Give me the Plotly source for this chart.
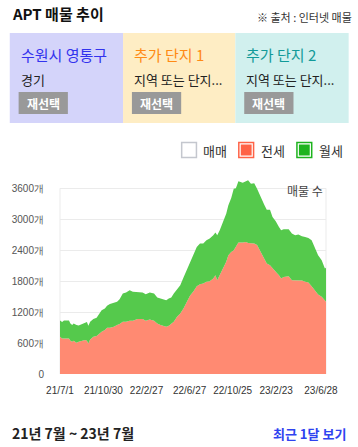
import plotly.graph_objects as go

# ---- data ----
dates = [
    "2021-07-01", "2021-07-07", "2021-07-12", "2021-07-26", "2021-07-30", "2021-08-04",
    "2021-08-08", "2021-08-16", "2021-08-22", "2021-08-31", "2021-09-09", "2021-09-14",
    "2021-09-18", "2021-09-23", "2021-10-02", "2021-10-11", "2021-10-19", "2021-10-25",
    "2021-11-03", "2021-11-09", "2021-11-17", "2021-11-28", "2021-12-07", "2021-12-14",
    "2021-12-23", "2022-01-01", "2022-01-11", "2022-01-20", "2022-02-02", "2022-02-16",
    "2022-02-25", "2022-03-08", "2022-03-20", "2022-03-29", "2022-04-07", "2022-04-17",
    "2022-04-23", "2022-04-30", "2022-05-07", "2022-05-14", "2022-05-23", "2022-06-01",
    "2022-06-10", "2022-06-19", "2022-06-28", "2022-07-08", "2022-07-17", "2022-07-26",
    "2022-08-04", "2022-08-13", "2022-08-22", "2022-09-01", "2022-09-07", "2022-09-12",
    "2022-09-19", "2022-09-28", "2022-10-07", "2022-10-13", "2022-10-21", "2022-10-28",
    "2022-11-03", "2022-11-10", "2022-11-22", "2022-12-01", "2022-12-07", "2022-12-15",
    "2022-12-24", "2023-01-01", "2023-01-07", "2023-01-14", "2023-01-21", "2023-01-28",
    "2023-02-06", "2023-02-13", "2023-02-22", "2023-03-03", "2023-03-09", "2023-03-16",
    "2023-03-30", "2023-04-08", "2023-04-17", "2023-04-26", "2023-05-06", "2023-05-15",
    "2023-05-24", "2023-06-02", "2023-06-11", "2023-06-20", "2023-06-30", "2023-07-09",
    "2023-07-12",
]
jeonse = [
    722, 690, 690, 690, 645, 626, 645, 606, 626, 645, 658, 645,
    593, 671, 722, 735, 787, 819, 851, 897, 897, 916, 948, 968,
    1013, 1013, 1032, 1032, 1064, 1064, 1032, 1058, 1032, 980, 948, 935,
    916, 935, 968, 1013, 1110, 1174, 1271, 1400, 1516, 1606, 1703, 1742,
    1754, 1787, 1800, 1851, 1916, 1819, 1916, 2045, 2174, 2303, 2367, 2400,
    2483, 2548, 2548, 2561, 2541, 2541, 2528, 2500, 2419, 2322, 2206, 2141,
    2109, 2045, 1980, 1916, 1851, 1883, 1896, 1819, 1819, 1812, 1812, 1787,
    1774, 1703, 1625, 1541, 1496, 1412, 1400,
]
wolse = [
    316, 316, 348, 348, 335, 322, 335, 342, 316, 316, 335, 361,
    342, 342, 342, 355, 387, 419, 420, 425, 458, 471, 452, 483,
    548, 567, 593, 561, 516, 516, 516, 522, 529, 504, 516, 516,
    516, 529, 516, 548, 535, 548, 599, 612, 625, 697, 761, 786,
    774, 806, 825, 839, 825, 871, 870, 903, 935, 967, 1045, 1193,
    1117, 1187, 1161, 1174, 1213, 1149, 1172, 1093, 1077, 1045, 1077, 1045,
    1077, 999, 981, 935, 935, 923, 910, 903, 871, 891, 858, 870,
    864, 890, 839, 762, 710, 633, 660,
]
x_tick_vals = ["2021-07-01", "2021-10-30", "2022-02-27", "2022-06-27",
               "2022-10-25", "2023-02-23", "2023-06-28"]
x_tick_text = ["21/7/1", "21/10/30", "22/2/27", "22/6/27", "22/10/25", "23/2/23", "23/6/28"]
y_tick_vals = [0, 600, 1200, 1800, 2400, 3000, 3600]
y_tick_text = ["0", "600개", "1200개", "1800개", "2400개", "3000개", "3600개"]

FONT = "Noto Sans CJK KR"
W, H = 358, 447
L, R, T, B = 56, 32, 178, 73
PW, PH = W - L - R, H - T - B


def px(x):
    return (x - L) / PW


def py(y):
    return (H - B - y) / PH


fig = go.Figure()
fig.add_trace(go.Scatter(x=dates, y=jeonse, name="전세", stackgroup="s", mode="lines",
                         line=dict(width=0, color="#ff8a72"), fillcolor="#ff8a72",
                         hoverinfo="x+y"))
fig.add_trace(go.Scatter(x=dates, y=wolse, name="월세", stackgroup="s", mode="lines",
                         line=dict(width=0, color="#55c94c"), fillcolor="#55c94c",
                         hoverinfo="x+y"))

shapes = []
annots = []

# plot frame vertical lines
for xv in (0, 1):
    shapes.append(dict(type="line", xref="paper", yref="y", x0=xv, x1=xv, y0=0, y1=3600,
                       line=dict(color="#ebebeb", width=1), layer="below"))

# title and source
annots.append(dict(text="<b>APT 매물 추이</b>", x=px(5), y=py(13), xref="paper", yref="paper",
                   xanchor="left", yanchor="middle", showarrow=False,
                   font=dict(size=15, color="#111", family=FONT)))
annots.append(dict(text="※ 출처 : 인터넷 매물", x=px(354), y=py(17), xref="paper", yref="paper",
                   xanchor="right", yanchor="middle", showarrow=False,
                   font=dict(size=11, color="#333", family=FONT)))

# panels
panels = [
    (5, 120, "#d4d4fa", "수원시 영통구", "#3333ee", "경기"),
    (120, 234, "#feedc4", "추가 단지 1", "#ff8a14", "지역 또는 단지..."),
    (234, 349, "#d1f0ee", "추가 단지 2", "#119a99", "지역 또는 단지..."),
]
for x0, x1, bg, title, tc, sub in panels:
    shapes.append(dict(type="rect", xref="paper", yref="paper", x0=px(x0), x1=px(x1),
                       y0=py(123), y1=py(33), fillcolor=bg, line=dict(width=0)))
    annots.append(dict(text=title, x=px(x0 + 9), y=py(55), xref="paper", yref="paper",
                       xanchor="left", yanchor="middle", showarrow=False,
                       font=dict(size=15, color=tc, family=FONT)))
    annots.append(dict(text=sub, x=px(x0 + 9), y=py(79), xref="paper", yref="paper",
                       xanchor="left", yanchor="middle", showarrow=False,
                       font=dict(size=13, color="#222", family=FONT)))
    shapes.append(dict(type="rect", xref="paper", yref="paper", x0=px(x0 + 9), x1=px(x0 + 59),
                       y0=py(114), y1=py(92), fillcolor="#999999", line=dict(width=0)))
    annots.append(dict(text="<b>재선택</b>", x=px(x0 + 34), y=py(103), xref="paper", yref="paper",
                       xanchor="center", yanchor="middle", showarrow=False,
                       font=dict(size=12, color="#ffffff", family=FONT)))

# legend
legend_items = [
    (179.5, "매매", "#ffffff", "#c4c7ce"),
    (237.5, "전세", "#ff6347", "#ff6347"),
    (296.5, "월세", "#1db31d", "#1db31d"),
]
for lx, lt, fc, lc in legend_items:
    shapes.append(dict(type="rect", xref="paper", yref="paper", x0=px(lx), x1=px(lx + 15),
                       y0=py(157.5), y1=py(142.5), fillcolor="#ffffff",
                       line=dict(color=lc, width=1.5)))
    if fc != "#ffffff":
        shapes.append(dict(type="rect", xref="paper", yref="paper", x0=px(lx + 2), x1=px(lx + 13),
                           y0=py(155.5), y1=py(144.5), fillcolor=fc, line=dict(width=0)))
    annots.append(dict(text=lt, x=px(lx + 20), y=py(150), xref="paper", yref="paper",
                       xanchor="left", yanchor="middle", showarrow=False,
                       font=dict(size=13, color="#333", family=FONT)))

annots.append(dict(text="매물 수", x=px(325), y=py(190), xref="paper", yref="paper",
                   xanchor="right", yanchor="middle", showarrow=False,
                   font=dict(size=12, color="#444", family=FONT)))

# footer
annots.append(dict(text="<b>21년 7월 ~ 23년 7월</b>", x=px(5), y=py(433), xref="paper", yref="paper",
                   xanchor="left", yanchor="middle", showarrow=False,
                   font=dict(size=14, color="#222", family=FONT)))
annots.append(dict(text="<b>최근 1달 보기</b>", x=px(348), y=py(433), xref="paper", yref="paper",
                   xanchor="right", yanchor="middle", showarrow=False,
                   font=dict(size=13, color="#2f43f0", family=FONT)))

fig.update_layout(
    width=W, height=H,
    margin=dict(l=L, r=R, t=T, b=B, pad=0),
    paper_bgcolor="white", plot_bgcolor="white",
    showlegend=False,
    shapes=shapes, annotations=annots,
    font=dict(family=FONT),
    xaxis=dict(type="date", range=["2021-07-01", "2023-07-12"],
               tickvals=x_tick_vals, ticktext=x_tick_text,
               showgrid=False, zeroline=False, showline=False,
               ticks="outside", ticklen=7, tickcolor="rgba(0,0,0,0)",
               tickfont=dict(size=10, color="#333", family="Liberation Sans")),
    yaxis=dict(range=[0, 3800], tickvals=y_tick_vals, ticktext=y_tick_text,
               showgrid=True, gridcolor="#ebebeb", gridwidth=1,
               zeroline=False, showline=False,
               ticks="outside", ticklen=13, tickcolor="rgba(0,0,0,0)",
               tickfont=dict(size=10, color="#555", family="Liberation Sans")),
)

fig.write_html("out.html", config={"displayModeBar": False},
               post_script="document.body.style.margin='0';document.body.style.overflow='hidden';")
